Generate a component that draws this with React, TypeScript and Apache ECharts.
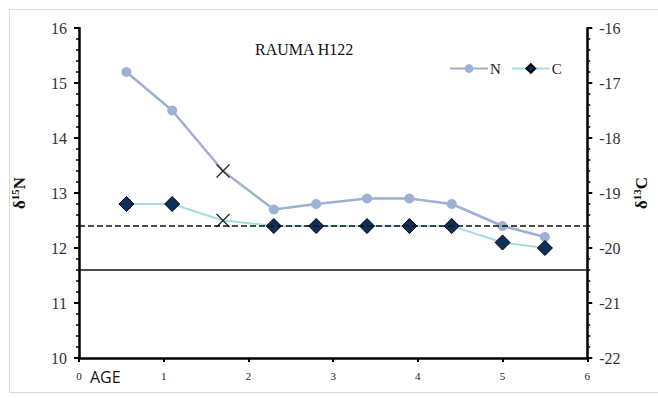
import React, { useEffect, useRef } from "react";
import * as echarts from "echarts";

const ages = [0.56, 1.1, 1.7, 2.3, 2.8, 3.4, 3.9, 4.4, 5.0, 5.5];
const nValues = [15.2, 14.5, 13.4, 12.7, 12.8, 12.9, 12.9, 12.8, 12.4, 12.2];
const cValues = [-19.2, -19.2, -19.5, -19.6, -19.6, -19.6, -19.6, -19.6, -19.9, -20.0];
const excludedIndex = [2];
const dashedRef = [12.4];
const solidRef = [11.6];
const xTicks = [0, 6];
const nAxis = [10, 16];
const cAxis = [-22, -16];

const SERIF = "Liberation Serif";
const CROSS = "path://M0,0L10,10M10,0L0,10";

function build(values: number[]) {
  return ages.map((a, i) =>
    excludedIndex.includes(i)
      ? {
          value: [a, values[i]],
          symbol: CROSS,
          symbolSize: 13,
          itemStyle: { color: "transparent", borderColor: "#222", borderWidth: 1.2 },
        }
      : { value: [a, values[i]] }
  );
}

export default function App() {
  const ref = useRef<HTMLDivElement>(null);
  useEffect(() => {
    if (!ref.current) return;
    const chart = echarts.init(ref.current, undefined, { renderer: "svg" });
    const axisName = (iso: string, el: string) => `{d|δ}{s|${iso}}{d|${el}}`;
    const nameRich = {
      d: { fontFamily: SERIF, fontSize: 17, fontWeight: "bold", color: "#111", lineHeight: 20 },
      s: { fontFamily: SERIF, fontSize: 11, fontWeight: "bold", color: "#111", lineHeight: 20, verticalAlign: "top" as const, padding: [0, 0, 6, 0] },
    };
    chart.setOption({
      animation: false,
      backgroundColor: "#fff",
      textStyle: { fontFamily: SERIF },
      title: {
        text: "RAUMA H122",
        left: 250,
        top: 36,
        textStyle: { fontFamily: SERIF, fontSize: 16, fontWeight: "normal", color: "#111" },
      },
      legend: {
        left: 444,
        top: 56,
        itemWidth: 38,
        itemHeight: 11,
        itemGap: 10,
        textStyle: { fontFamily: SERIF, fontSize: 15, color: "#222", padding: [0, 0, 0, -3] },
        data: ["N", "C"],
      },
      grid: { left: 79, right: 66, top: 28, bottom: 40 },
      xAxis: {
        type: "value",
        min: xTicks[0],
        max: xTicks[1],
        interval: 1,
        splitLine: { show: false },
        axisLine: { lineStyle: { color: "#000", width: 2.5 } },
        axisTick: { length: 4, lineStyle: { color: "#000", width: 2 } },
        axisLabel: { fontFamily: SERIF, fontSize: 11, color: "#222", margin: 12 },
      },
      yAxis: [
        {
          type: "value",
          min: nAxis[0],
          max: nAxis[1],
          interval: 1,
          position: "left",
          splitLine: { show: false },
          axisLine: { show: true, lineStyle: { color: "#000", width: 2.5 } },
          axisTick: { show: true, length: 5, lineStyle: { color: "#000", width: 2 } },
          minorTick: { show: true, splitNumber: 5, length: 3, lineStyle: { color: "#000", width: 1.5 } },
          axisLabel: { fontFamily: SERIF, fontSize: 16, color: "#333", margin: 12 },
          name: axisName("15", "N"),
          nameLocation: "middle",
          nameRotate: 90,
          nameGap: 50,
          nameTextStyle: { rich: nameRich },
        },
        {
          type: "value",
          min: cAxis[0],
          max: cAxis[1],
          interval: 1,
          position: "right",
          splitLine: { show: false },
          axisLine: { show: true, lineStyle: { color: "#000", width: 2.5 } },
          axisTick: { show: true, length: 5, lineStyle: { color: "#000", width: 2 } },
          minorTick: { show: true, splitNumber: 5, length: 3, lineStyle: { color: "#000", width: 1.5 } },
          axisLabel: { fontFamily: SERIF, fontSize: 16, color: "#333", margin: 12 },
          name: axisName("13", "C"),
          nameLocation: "middle",
          nameRotate: 90,
          nameGap: 44,
          nameTextStyle: { rich: nameRich },
        },
      ],
      series: [
        {
          name: "N",
          type: "line",
          yAxisIndex: 0,
          data: build(nValues),
          symbol: "circle",
          symbolSize: 10,
          lineStyle: { color: "#9db1d4", width: 2.5 },
          itemStyle: { color: "#9db1d4" },
          z: 3,
          markLine: {
            silent: true,
            symbol: "none",
            label: { show: false },
            data: [
              ...dashedRef.map((v) => ({ yAxis: v, lineStyle: { type: "dashed", color: "#111", width: 1.5 } })),
              ...solidRef.map((v) => ({ yAxis: v, lineStyle: { type: "solid", color: "#111", width: 1.5 } })),
            ],
          },
        },
        {
          name: "C",
          type: "line",
          yAxisIndex: 1,
          data: build(cValues),
          symbol: "diamond",
          symbolSize: 15,
          lineStyle: { color: "#a6dde0", width: 2 },
          itemStyle: { color: "#0e2f5c", borderColor: "#000", borderWidth: 1 },
          z: 4,
        },
      ],
      graphic: [
        {
          type: "rect",
          shape: { x: 9.5, y: 9.5, width: 660, height: 383 },
          style: { fill: "none", stroke: "#d9d9d9", lineWidth: 1 },
          silent: true,
          z: -1,
        },
        {
          type: "text",
          left: 90,
          top: 369,
          style: { text: "AGE", fontFamily: "Open Sans", fontSize: 16, fill: "#111" },
        },
      ],
    });
    return () => chart.dispose();
  }, []);
  return (
    <div
      ref={ref}
      style={{ position: "fixed", left: 0, top: 0, width: 658, height: 398 }}
    />
  );
}
